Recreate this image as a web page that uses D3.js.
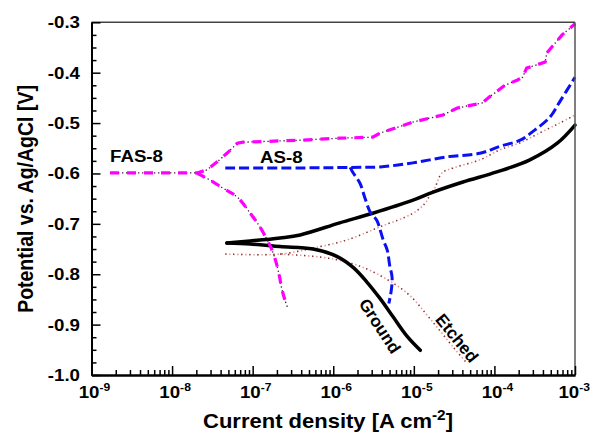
<!DOCTYPE html>
<html><head><meta charset="utf-8">
<script src="https://cdn.jsdelivr.net/npm/d3@7"></script>
<style>
html,body{margin:0;padding:0;background:#fff;}
svg{display:block;}
text{font-family:Arial,"Liberation Sans",sans-serif;font-weight:bold;fill:#000;}
</style></head>
<body>
<svg id="chart" width="592" height="439"></svg>
<script>
// ---- data (log10 of current density in A cm^-2, potential in V vs Ag/AgCl) ----
const xTickExponents = [-9, -8, -7, -6, -5, -4, -3];
const yTicks = [-0.3, -0.4, -0.5, -0.6, -0.7, -0.8, -0.9, -1.0];
const yTickLabels = ["-0.3", "-0.4", "-0.5", "-0.6", "-0.7", "-0.8", "-0.9", "-1.0"];

const fas8AnodicLogI = [-8.77, -7.69, -7.57, -7.44, -7.32, -7.19, -7.12, -6.41, -5.92, -5.51, -5.42, -5.01, -4.64, -4.46, -4.15, -4.06, -3.87, -3.72, -3.65, -3.60, -3.37, -3.35, -3.16, -3.00];
const fas8AnodicE    = [-0.599, -0.599, -0.593, -0.577, -0.560, -0.540, -0.538, -0.534, -0.530, -0.528, -0.520, -0.498, -0.484, -0.470, -0.460, -0.448, -0.425, -0.415, -0.409, -0.391, -0.379, -0.361, -0.325, -0.303];
const fas8CathodicLogI = [-7.69, -7.65, -7.53, -7.37, -7.19, -7.03, -6.91, -6.82, -6.76, -6.71, -6.67, -6.64, -6.60, -6.57];
const fas8CathodicE    = [-0.599, -0.603, -0.613, -0.629, -0.647, -0.679, -0.706, -0.732, -0.752, -0.776, -0.802, -0.828, -0.851, -0.865];

const as8AnodicLogI = [-7.34, -6.41, -5.79, -5.42, -5.01, -4.59, -4.18, -3.93, -3.68, -3.50, -3.31, -3.19, -3.00];
const as8AnodicE    = [-0.589, -0.589, -0.588, -0.587, -0.579, -0.567, -0.560, -0.546, -0.534, -0.514, -0.488, -0.458, -0.409];
const as8CathodicLogI = [-5.79, -5.76, -5.67, -5.61, -5.54, -5.46, -5.38, -5.33, -5.30, -5.27, -5.28, -5.31];
const as8CathodicE    = [-0.588, -0.597, -0.619, -0.647, -0.677, -0.693, -0.732, -0.752, -0.782, -0.806, -0.832, -0.858];

const groundAnodicLogI = [-7.32, -7.03, -6.66, -6.41, -5.92, -5.51, -5.01, -4.76, -4.39, -3.97, -3.56, -3.22, -3.00];
const groundAnodicE    = [-0.738, -0.734, -0.728, -0.722, -0.698, -0.679, -0.653, -0.637, -0.617, -0.597, -0.573, -0.540, -0.504];
const groundCathodicLogI = [-7.32, -7.03, -6.66, -6.25, -5.95, -5.75, -5.58, -5.42, -5.26, -5.08, -4.92];
const groundCathodicE    = [-0.738, -0.740, -0.745, -0.750, -0.765, -0.787, -0.816, -0.848, -0.884, -0.924, -0.951];

const etchedAnodicLogI = [-7.34, -6.66, -6.25, -5.83, -5.42, -5.01, -4.86, -4.80, -4.74, -4.65, -4.51, -4.18, -3.93, -3.68, -3.43, -3.19, -3.00];
const etchedAnodicE    = [-0.760, -0.760, -0.748, -0.732, -0.706, -0.679, -0.659, -0.643, -0.629, -0.599, -0.589, -0.573, -0.553, -0.539, -0.519, -0.500, -0.484];
const etchedCathodicLogI = [-6.66, -6.16, -5.83, -5.51, -5.08, -4.80, -4.51, -4.34];
const etchedCathodicE    = [-0.760, -0.766, -0.776, -0.795, -0.838, -0.888, -0.945, -0.977];

const curveLabels = ["FAS-8", "AS-8", "Ground", "Etched"];

// ---- drawing ----
const svg = d3.select("#chart");
const x = d3.scaleLog().domain([1e-9, 1e-3]).range([91.5, 575]);
const y = d3.scaleLinear().domain([-1.0, -0.3]).range([375, 22.3]);

const zip = (L, E) => L.map((l, i) => [Math.pow(10, l), E[i]]);
const lineLin = d3.line().x(d => x(d[0])).y(d => y(d[1]));
const lineSmooth = d3.line().x(d => x(d[0])).y(d => y(d[1])).curve(d3.curveCatmullRom.alpha(0.5));

const plot = svg.append("g");

// Etched (dotted)
[zip(etchedAnodicLogI, etchedAnodicE), zip(etchedCathodicLogI, etchedCathodicE)].forEach(d => {
  plot.append("path").attr("d", lineSmooth(d)).attr("fill", "none")
    .attr("stroke", "#e0a0a0").attr("stroke-width", 1.6).attr("stroke-dasharray", "1.5,2.5");
  plot.append("path").attr("d", lineSmooth(d)).attr("fill", "none")
    .attr("stroke", "#8a2a2a").attr("stroke-width", 1.4).attr("stroke-dasharray", "1.2,6.8");
});

// Ground (solid black)
[zip(groundAnodicLogI, groundAnodicE), zip(groundCathodicLogI, groundCathodicE)].forEach(d => {
  plot.append("path").attr("d", lineSmooth(d)).attr("fill", "none")
    .attr("stroke", "#000").attr("stroke-width", 3.5).attr("stroke-linecap", "round");
});

// AS-8 (blue dashed)
[zip(as8AnodicLogI, as8AnodicE), zip(as8CathodicLogI, as8CathodicE)].forEach(d => {
  plot.append("path").attr("d", lineSmooth(d)).attr("fill", "none")
    .attr("stroke", "#0a10f0").attr("stroke-width", 3).attr("stroke-dasharray", "10,4");
});

// FAS-8 (magenta dash-dot-dot)
[[zip(fas8AnodicLogI, fas8AnodicE), lineLin], [zip(fas8CathodicLogI, fas8CathodicE), lineSmooth]].forEach(([d, gen]) => {
  plot.append("path").attr("d", gen(d)).attr("fill", "none")
    .attr("stroke", "#4a1040").attr("stroke-width", 1.3).attr("stroke-dasharray", "1.3,2.7");
  plot.append("path").attr("d", gen(d)).attr("fill", "none")
    .attr("stroke", "#ff00ff").attr("stroke-width", 3.2).attr("stroke-dasharray", "9,8");
});

// frame top/right
svg.append("line").attr("x1", x(1e-9)).attr("x2", x(1e-3)).attr("y1", y(-0.3)).attr("y2", y(-0.3))
  .attr("stroke", "#444").attr("stroke-width", 1.5);
svg.append("line").attr("x1", x(1e-3)).attr("x2", x(1e-3)).attr("y1", y(-0.3)).attr("y2", y(-1.0))
  .attr("stroke", "#555").attr("stroke-width", 1.5);

// axes
const xMajor = xTickExponents.map(e => Math.pow(10, e));
const xMinor = [];
xTickExponents.slice(0, -1).forEach(e => { for (let k = 2; k <= 9; k++) xMinor.push(k * Math.pow(10, e)); });
const yMinor = d3.range(0, 29).map(i => -1.0 + i * 0.025).filter(v => Math.abs(Math.round(v * 10) - v * 10) > 1e-6);

const xAxisG = svg.append("g").attr("transform", `translate(0,${y(-1.0)})`);
xAxisG.append("g").call(d3.axisBottom(x).tickValues(xMajor).tickSize(-9).tickSizeOuter(0).tickFormat(""));
xAxisG.append("g").call(d3.axisBottom(x).tickValues(xMinor).tickSize(-5).tickSizeOuter(0).tickFormat(""));
const yAxisG = svg.append("g").attr("transform", `translate(${x(1e-9)},0)`);
yAxisG.append("g").call(d3.axisLeft(y).tickValues(yTicks).tickSize(-9).tickSizeOuter(0).tickFormat(""));
yAxisG.append("g").call(d3.axisLeft(y).tickValues(yMinor).tickSize(-5).tickSizeOuter(0).tickFormat(""));
svg.selectAll(".domain").attr("stroke", "#000").attr("stroke-width", 2);
svg.selectAll(".tick line").attr("stroke", "#000").attr("stroke-width", 1.5);

// y tick labels
yTicks.forEach((v, i) => {
  svg.append("text").attr("transform", `translate(80,${y(v) + 6}) scale(1.1,1)`)
    .attr("text-anchor", "end").attr("font-size", 17).text(yTickLabels[i]);
});
// x tick labels
xTickExponents.forEach((e, i) => {
  const last = i === xTickExponents.length - 1;
  const t = svg.append("text")
    .attr("transform", last ? `translate(590,398) scale(1.1,1)` : `translate(${x(Math.pow(10, e)) + 3},398) scale(1.1,1)`)
    .attr("text-anchor", last ? "end" : "middle").attr("font-size", 17);
  t.append("tspan").text("10");
  t.append("tspan").attr("font-size", 11).attr("dy", -7).text(String(e));
});

// axis titles
const xt = svg.append("text").attr("transform", "translate(328,428) scale(1.1,1)")
  .attr("text-anchor", "middle").attr("font-size", 20);
xt.append("tspan").text("Current density [A cm");
xt.append("tspan").attr("font-size", 14).attr("dy", -8).text("-2");
xt.append("tspan").attr("dy", 8).text("]");

svg.append("text").attr("transform", "translate(33,199) scale(1.15,1) rotate(-90)")
  .attr("text-anchor", "middle").attr("font-size", 19.5).text("Potential vs. Ag/AgCl [V]");

// curve labels
svg.append("text").attr("transform", "translate(110,162) scale(1.1,1)").attr("font-size", 17).text(curveLabels[0]);
svg.append("text").attr("transform", "translate(260,163) scale(1.1,1)").attr("font-size", 17).text(curveLabels[1]);
svg.append("text").attr("transform", "translate(380,326) rotate(57)").attr("text-anchor", "middle")
  .attr("dy", "0.35em").attr("font-size", 17).text(curveLabels[2]);
svg.append("text").attr("transform", "translate(457,338) rotate(51)").attr("text-anchor", "middle")
  .attr("dy", "0.35em").attr("font-size", 17).text(curveLabels[3]);
</script>
</body></html>
